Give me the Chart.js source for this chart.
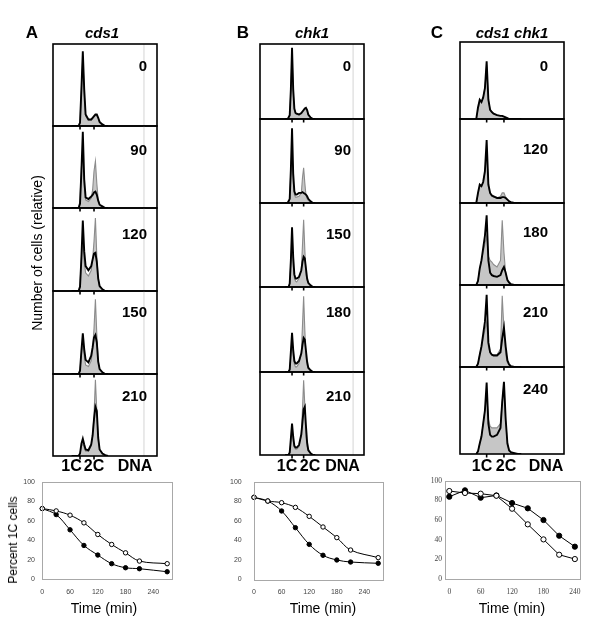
<!DOCTYPE html>
<html><head><meta charset="utf-8">
<script src="https://cdn.jsdelivr.net/npm/chart.js@4.4.0/dist/chart.umd.min.js"></script>
<style>
html,body{margin:0;padding:0;background:#fff;}
#fig{position:relative;width:600px;height:634px;overflow:hidden;font-family:"Liberation Sans",Arial,sans-serif;}
#fig canvas{position:absolute;}
.t{position:absolute;white-space:nowrap;line-height:1;color:#000;transform:translate(-50%,-50%);}
.r{position:absolute;white-space:nowrap;line-height:1;color:#000;transform:translate(-100%,-50%);}
</style></head><body><div id="fig"></div>
<script>
// ---------- DATA ----------
// DNA content (in C units) sampled for every histogram
const dnaContent = [0.4,0.5,0.6,0.7,0.8,0.9,1.0,1.1,1.2,1.3,1.4,1.6,1.8,1.9,2.0,2.1,2.2,2.3,2.4,2.6,2.8,3.0];

// Column A: cds1  (relative cell number, % of panel height)
const timesA = ['0','90','120','150','210'];
const histA0Black   = [0,0,0,0,0,0,4,45,91,45,14,8,8,10,12,14,14,10,5,2,0,0];
const histA0Gray    = [0,0,0,0,0,0,5,45,85,40,12,7,7,9,11,13,13,9,4,1,0,0];
const histA90Black  = [0,0,0,0,0,0,5,45,93,35,13,11,14,16,19,20,16,9,4,2,0,0];
const histA90Gray   = [0,0,0,0,0,0,10,50,70,28,10,8,12,22,45,57,30,10,4,1,0,0];
const histA120Black = [0,0,0,0,0,0,5,40,85,48,30,25,30,38,45,46,35,15,6,2,0,0];
const histA120Gray  = [0,0,0,0,0,0,8,40,62,35,22,18,25,38,60,88,42,14,5,2,0,0];
const histA150Black = [0,0,0,0,0,0,4,28,49,30,17,14,22,32,44,47,38,15,6,2,0,0];
const histA150Gray  = [0,0,0,0,0,0,5,24,35,22,11,9,16,30,55,90,48,15,6,2,0,0];
const histA210Black = [0,0,0,0,0,0,3,15,21,14,8,7,14,25,45,60,55,22,8,3,1,0];
const histA210Gray  = [0,0,0,0,0,0,3,12,15,10,6,6,12,24,50,93,55,20,8,3,1,0];

// Column B: chk1
const timesB = ['0','90','150','180','210'];
const histB0Black   = [0,0,0,2,5,40,95,40,14,8,7,6,8,10,12,14,15,12,6,2,0,0];
const histB0Gray    = [0,0,0,2,5,38,88,36,12,7,6,5,7,9,11,13,14,11,5,2,0,0];
const histB90Black  = [0,0,0,2,5,40,89,35,14,10,10,12,12,13,12,11,10,8,5,2,0,0];
const histB90Gray   = [0,0,0,0,5,40,65,26,10,7,7,8,12,30,42,24,9,5,3,1,0,0];
const histB150Black = [0,0,0,0,4,32,71,36,15,10,10,12,20,30,36,34,22,10,5,2,0,0];
const histB150Gray  = [0,0,0,0,4,30,55,26,11,7,6,10,20,50,80,45,15,8,4,1,0,0];
const histB180Black = [0,0,0,0,3,24,46,26,13,10,10,13,22,32,40,38,25,12,5,2,0,0];
const histB180Gray  = [0,0,0,0,3,20,40,20,9,6,6,10,22,55,89,50,18,8,4,1,0,0];
const histB210Black = [0,0,0,0,3,20,38,22,11,9,9,12,25,40,55,58,35,15,6,2,0,0];
const histB210Gray  = [0,0,0,0,3,16,32,17,9,7,7,10,25,55,90,60,22,10,5,2,0,0];

// Column C: cds1 chk1
const timesC = ['0','120','180','210','240'];
const histC0Black   = [0,15,25,22,28,40,75,25,12,9,7,5,4,4,3,2,1,0,0,0,0,0];
const histC0Gray    = [0,12,22,22,28,40,70,25,12,9,7,5,4,4,3,2,1,0,0,0,0,0];
const histC120Black = [0,12,22,20,25,38,75,22,12,9,8,6,6,7,7,6,4,2,1,0,0,0];
const histC120Gray  = [0,10,20,20,25,36,62,20,11,8,7,6,8,12,12,7,4,2,1,0,0,0];
const histC180Black = [0,5,20,30,45,60,85,30,15,12,11,10,12,18,22,15,6,3,1,0,0,0];
const histC180Gray  = [0,5,20,30,40,50,60,35,30,28,25,22,30,79,40,14,6,3,1,0,0,0];
const histC210Black = [0,4,15,25,40,55,88,30,18,15,14,14,18,35,48,25,8,3,1,0,0,0];
const histC210Gray  = [0,4,15,25,35,45,55,25,17,15,15,15,22,87,45,15,5,2,1,0,0,0];
const histC240Black = [0,3,12,20,35,50,82,35,22,20,20,22,30,60,83,40,12,4,2,1,0,0];
const histC240Gray  = [0,3,12,20,35,50,70,40,32,30,30,30,35,60,80,38,12,4,2,1,0,0];

// Percent 1C cells vs time
const timeA = [0,30,60,90,120,150,180,210,270];
const openA   = [72.6,70.2,65.8,57.9,45.9,35.6,27,18.5,15.8];
const filledA = [72.6,66.4,50.7,34.6,24.7,15.8,11.6,10.6,7.5];
const timeB = [0,30,60,90,120,150,180,210,270];
const openB   = [84,80.2,78.5,73.7,64.5,53.6,42.7,30,22.2];
const filledB = [84,80.2,70,52.9,35.8,24.6,19.8,17.7,16.4];
const timeC = [0,30,60,90,120,150,180,210,240];
const openC   = [89.5,87.5,86.8,84.7,71.5,55.6,40.3,24.7,20.3];
const filledC = [83.7,90.2,82.7,85,77.3,71.9,60,44,32.9];
const timeTicks = [0,60,120,180,240];
const pctTicks = [0,20,40,60,80,100];
const dnaTicks = [1,2];

// ---------- LAYOUT ----------
const fig = document.getElementById('fig');
function mkCanvas(x,y,w,h){
  const c=document.createElement('canvas');
  c.width=w;c.height=h;c.style.left=x+'px';c.style.top=y+'px';
  c.style.width=w+'px';c.style.height=h+'px';fig.appendChild(c);return c;
}
function txt(s,x,y,css,cls){
  const d=document.createElement('div');d.className=cls||'t';d.textContent=s;
  d.style.left=x+'px';d.style.top=y+'px';Object.assign(d.style,css||{});fig.appendChild(d);return d;
}

const histFrame = {
  id:'histFrame',
  beforeDatasetsDraw(chart,args,opts){
    if(opts.ref==null) return;
    const {ctx,chartArea:a}=chart; const x=chart.scales.x.getPixelForValue(opts.ref);
    ctx.save();ctx.strokeStyle='#d4d4d4';ctx.lineWidth=1;
    ctx.beginPath();ctx.moveTo(x,a.top);ctx.lineTo(x,a.bottom);ctx.stroke();ctx.restore();
  },
  afterDraw(chart){
    const {ctx,chartArea:a}=chart;
    ctx.save();ctx.strokeStyle='#000';ctx.lineWidth=1.6;
    ctx.strokeRect(a.left,a.top,a.right-a.left,a.bottom-a.top);
    dnaTicks.forEach(v=>{const x=chart.scales.x.getPixelForValue(v);
      ctx.beginPath();ctx.moveTo(x,a.bottom);ctx.lineTo(x,a.bottom+3.5);ctx.stroke();});
    ctx.restore();
  }
};

const columns = [
  {left:53,width:104,tops:[44,126,208,291,374],bottom:456,xmin:-0.93,xmax:6.5,ref:5.57,labelRight:147,
   times:timesA,gray:[histA0Gray,histA90Gray,histA120Gray,histA150Gray,histA210Gray],
   black:[histA0Black,histA90Black,histA120Black,histA150Black,histA210Black]},
  {left:260,width:104,tops:[44,119,203,287,372],bottom:455,xmin:-1.76,xmax:7.2,ref:6.26,labelRight:351,
   times:timesB,gray:[histB0Gray,histB90Gray,histB150Gray,histB180Gray,histB210Gray],
   black:[histB0Black,histB90Black,histB150Black,histB180Black,histB210Black]},
  {left:460,width:104,tops:[42,119,203,285,367],bottom:454,xmin:-0.54,xmax:5.47,ref:null,labelRight:548,
   times:timesC,gray:[histC0Gray,histC120Gray,histC180Gray,histC210Gray,histC240Gray],
   black:[histC0Black,histC120Black,histC180Black,histC210Black,histC240Black]}
];
const labelYs = [[65,149,233,311,395],[65,149,233,311,395],[65,148,231,311,388]];

columns.forEach((col,ci)=>{
  col.tops.forEach((top,i)=>{
    const h=(i<4?col.tops[i+1]:col.bottom)-top;
    const c=mkCanvas(col.left-2,top-2,col.width+4,h+7);
    const pts=arr=>arr.map((v,k)=>({x:dnaContent[k],y:v}));
    new Chart(c,{type:'line',
      data:{datasets:[
        {data:pts(col.black[i]),borderColor:'#000',borderWidth:1.9,fill:false,pointRadius:0,tension:0,order:0},
        {data:pts(col.gray[i]),borderColor:'#8c8c8c',borderWidth:1.1,backgroundColor:'#c6c6c6',fill:'origin',pointRadius:0,tension:0,order:1}
      ]},
      options:{responsive:false,animation:false,events:[],
        layout:{padding:{left:2,right:2,top:2,bottom:5}},
        plugins:{legend:{display:false},tooltip:{enabled:false},histFrame:{ref:col.ref}},
        scales:{x:{type:'linear',min:col.xmin,max:col.xmax,display:false},
                y:{min:0,max:100,display:false}}},
      plugins:[histFrame]});
    txt(col.times[i],col.labelRight,labelYs[ci][i],{fontWeight:'bold',fontSize:'15px'},'r');
  });
});

// Titles
txt('A',32,32,{fontWeight:'bold',fontSize:'17px'});
txt('cds1',102,32,{fontWeight:'bold',fontStyle:'italic',fontSize:'15px'});
txt('B',243,32,{fontWeight:'bold',fontSize:'17px'});
txt('chk1',312,32,{fontWeight:'bold',fontStyle:'italic',fontSize:'15px'});
txt('C',437,32,{fontWeight:'bold',fontSize:'17px'});
txt('cds1 chk1',512,32,{fontWeight:'bold',fontStyle:'italic',fontSize:'15px'});
// DNA labels
[[71.5,94,135],[287,310,342.5],[482,506,546]].forEach(p=>{
  txt('1C',p[0],466,{fontWeight:'bold',fontSize:'16px'});
  txt('2C',p[1],466,{fontWeight:'bold',fontSize:'16px'});
  txt('DNA',p[2],466,{fontWeight:'bold',fontSize:'16px'});
});
txt('Number of cells (relative)',37,253,{fontSize:'14px',transform:'translate(-50%,-50%) rotate(-90deg)'});

// ---------- LINE CHARTS ----------
const boxPlugin = {
  id:'boxPlugin',
  afterDraw(chart){
    const {ctx,chartArea:a}=chart;ctx.save();ctx.strokeStyle='#a8a8a8';ctx.lineWidth=1;
    ctx.strokeRect(Math.round(a.left)+0.5,Math.round(a.top)+0.5,Math.round(a.right-a.left),Math.round(a.bottom-a.top));ctx.restore();
  }
};
function lineChart(g,times,open,filled,tension,fontFam,fontSize,ptR){
  const c=mkCanvas(g.x,g.top,200,600-g.top);
  const mk=arr=>arr.map((v,i)=>({x:times[i],y:v}));
  new Chart(c,{type:'line',
    data:{datasets:[
      {data:mk(open),borderColor:'#000',borderWidth:1,pointRadius:ptR,pointBackgroundColor:'#fff',pointBorderColor:'#000',pointBorderWidth:1,tension:tension,order:0,clip:6},
      {data:mk(filled),borderColor:'#000',borderWidth:1,pointRadius:ptR,pointBackgroundColor:'#000',pointBorderColor:'#000',pointBorderWidth:1,tension:tension,order:1,clip:6}
    ]},
    options:{responsive:false,animation:false,events:[],
      layout:{padding:{left:0,right:g.padR,top:g.padT,bottom:0}},
      plugins:{legend:{display:false},tooltip:{enabled:false}},
      scales:{
        x:{type:'linear',min:g.xmin,max:g.xmax,grid:{display:false,drawTicks:false},border:{display:false},
           afterBuildTicks:s=>{s.ticks=timeTicks.map(v=>({value:v}));},
           afterFit:s=>{s.height=g.xH;},
           ticks:{color:'#444',font:{family:fontFam,size:fontSize},padding:g.xPad,maxRotation:0,autoSkip:false}},
        y:{min:0,max:100,grid:{display:false,drawTicks:false},border:{display:false},
           afterBuildTicks:s=>{s.ticks=pctTicks.map(v=>({value:v}));},
           afterFit:s=>{s.width=g.yW;},
           ticks:{color:'#444',font:{family:fontFam,size:fontSize},padding:g.yPad}}
      }},
    plugins:[boxPlugin]});
}
lineChart({x:0,top:462,padR:28.2,padT:20,xmin:0,xmax:280,xH:21,yW:42.3,xPad:9,yPad:7.3},timeA,openA,filledA,0.35,'Liberation Sans',7,2.2);
lineChart({x:200,top:462,padR:17.2,padT:19.7,xmin:0,xmax:280,xH:20.7,yW:54,xPad:9,yPad:12.3},timeB,openB,filledB,0.35,'Liberation Sans',7,2.2);
lineChart({x:400,top:462,padR:19.9,padT:18.7,xmin:-8,xmax:250,xH:21,yW:45.1,xPad:9,yPad:3},timeC,openC,filledC,0,'Liberation Serif',7.5,2.6);

txt('Percent 1C cells',13,540,{fontSize:'12px',transform:'translate(-50%,-50%) rotate(-90deg)'});
txt('Time (min)',104,608,{fontSize:'14px'});
txt('Time (min)',323,608,{fontSize:'14px'});
txt('Time (min)',512,608,{fontSize:'14px'});
</script></body></html>
